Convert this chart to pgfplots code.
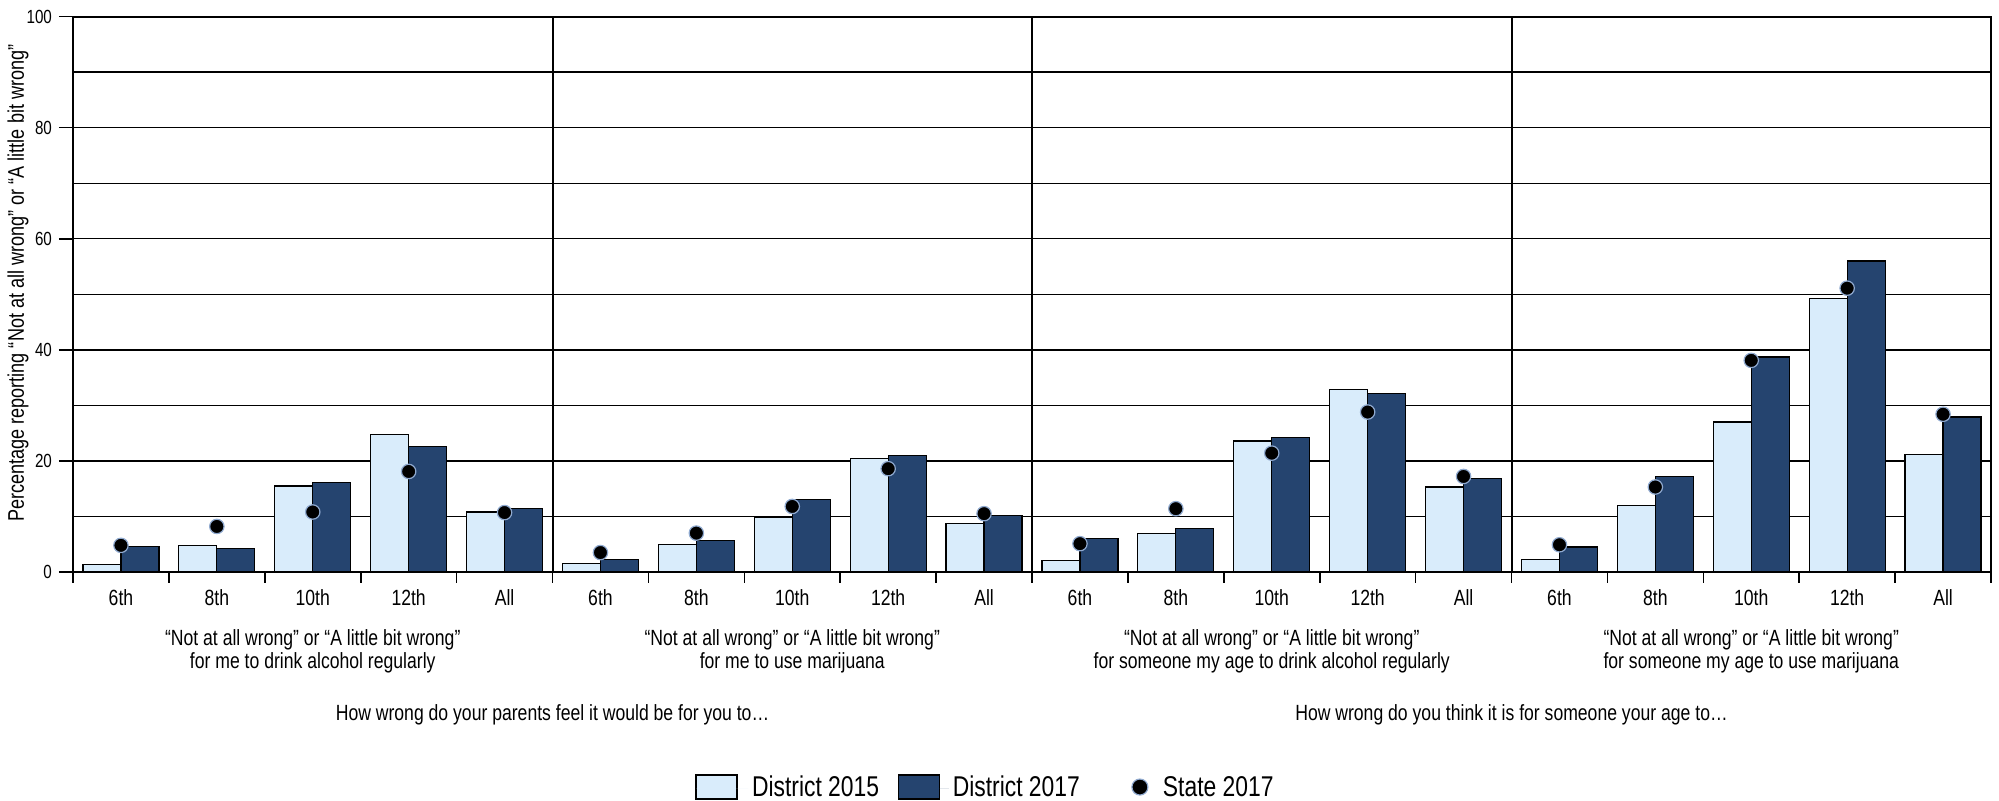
\documentclass[border=0pt]{standalone}
\usepackage{fontspec}
\setmainfont{Liberation Sans}[FakeStretch=0.8]
\usepackage{pgfplots}
\pgfplotsset{compat=1.18}
\definecolor{cA}{HTML}{D9ECFB}
\definecolor{cB}{HTML}{25446F}
\definecolor{dotedge}{HTML}{8FA9CF}
\begin{document}
\begin{tikzpicture}
\useasboundingbox (-36.5pt,-114.5pt) rectangle (963pt,286pt);
\begin{axis}[
  at={(0,0)}, anchor=south west,
  scale only axis, width=959pt, height=277.7pt,
  xmin=-0.5, xmax=19.5, ymin=0, ymax=100,
  clip=false,
  axis line style={line width=1pt},
  xtick={0,...,19},
  xticklabels={6th,8th,10th,12th,All,6th,8th,10th,12th,All,6th,8th,10th,12th,All,6th,8th,10th,12th,All},
  major x tick style={draw=none},
  minor xtick={-0.5,0.5,...,19.5},
  minor tick length=5.5pt,
  major tick length=7pt,
  tick align=outside,
  xtick pos=bottom, ytick pos=left,
  ytick={0,20,...,100},
  minor ytick={10,30,...,90},
  minor y tick style={draw=none},
  ymajorgrids, yminorgrids,
  major grid style={black, line width=0.7pt},
  minor grid style={black, line width=0.7pt},
  tick style={black, line width=0.8pt},
  /pgf/number format/assume math mode=true,
  xticklabel style={font=\fontsize{11}{13}\selectfont, anchor=center, yshift=-6pt},
  yticklabel style={font=\fontsize{9.5}{11}\selectfont},
  legend columns=3,
  legend style={at={(0.3243,-0.389)}, anchor=west, draw=none, inner sep=0pt,
    font=\fontsize{14.3}{16}\selectfont,
    /tikz/every even column/.append style={column sep=7.5pt}},
]
\addplot[ybar, bar width=19pt, bar shift=-9.5pt, fill=cA, draw=black, line width=0.6pt,
  legend image code/.code={\draw[fill=cA, draw=black, line width=0.6pt] (0pt,-5.5pt) rectangle (20.5pt,6.5pt); \path[draw=none] (0pt,0pt) -- (26pt,0pt);}]
  coordinates {(0,1.3) (1,4.7) (2,15.5) (3,24.8) (4,10.8) (5,1.6) (6,5.0) (7,9.9) (8,20.4) (9,8.7)
  (10,2.0) (11,7.0) (12,23.6) (13,32.8) (14,15.3) (15,2.3) (16,12.0) (17,27.0) (18,49.2) (19,21.1)};
\addlegendentry{District 2015}
\addplot[ybar, bar width=19pt, bar shift=9.5pt, fill=cB, draw=black, line width=0.6pt,
  legend image code/.code={\draw[fill=cB, draw=black, line width=0.6pt] (0pt,-5.5pt) rectangle (20.5pt,6.5pt); \path[draw=none] (0pt,0pt) -- (25pt,0pt);}]
  coordinates {(0,4.6) (1,4.3) (2,16.1) (3,22.6) (4,11.4) (5,2.2) (6,5.6) (7,13.0) (8,21.0) (9,10.2)
  (10,6.0) (11,7.8) (12,24.2) (13,32.2) (14,16.8) (15,4.5) (16,17.2) (17,38.7) (18,56.0) (19,27.9)};
\addlegendentry{District 2017}
\addplot[only marks, mark=*, mark size=3.6pt, mark options={fill=black, draw=dotedge, line width=0.6pt},
  legend image code/.code={\draw[fill=black, draw=dotedge, line width=0.6pt] (20.5pt,0.5pt) circle (4pt); \path[draw=none] (0pt,0pt) -- (30pt,0pt);}]
  coordinates {(0,4.8) (1,8.2) (2,10.8) (3,18.1) (4,10.7) (5,3.5) (6,7.0) (7,11.8) (8,18.6) (9,10.5)
  (10,5.1) (11,11.4) (12,21.4) (13,28.8) (14,17.2) (15,4.9) (16,15.3) (17,38.1) (18,51.1) (19,28.4)};
\addlegendentry{State 2017}
\draw[line width=1pt] (axis cs:4.5,0) -- (axis cs:4.5,100);
\draw[line width=1pt] (axis cs:9.5,0) -- (axis cs:9.5,100);
\draw[line width=1pt] (axis cs:14.5,0) -- (axis cs:14.5,100);
\node[align=center, font=\fontsize{11}{11.2}\selectfont] at (axis cs:2,-14.3) {“Not at all wrong” or “A little bit wrong”\\for me to drink alcohol regularly};
\node[align=center, font=\fontsize{11}{11.2}\selectfont] at (axis cs:7,-14.3) {“Not at all wrong” or “A little bit wrong”\\for me to use marijuana};
\node[align=center, font=\fontsize{11}{11.2}\selectfont] at (axis cs:12,-14.3) {“Not at all wrong” or “A little bit wrong”\\for someone my age to drink alcohol regularly};
\node[align=center, font=\fontsize{11}{11.2}\selectfont] at (axis cs:17,-14.3) {“Not at all wrong” or “A little bit wrong”\\for someone my age to use marijuana};
\node[font=\fontsize{11}{12.5}\selectfont] at (axis cs:4.5,-25.8) {How wrong do your parents feel it would be for you to…};
\node[font=\fontsize{11}{12.5}\selectfont] at (axis cs:14.5,-25.8) {How wrong do you think it is for someone your age to…};
\node[rotate=90, font=\fontsize{11.3}{12.5}\selectfont] at (rel axis cs:-0.0287,0.52) {Percentage reporting “Not at all wrong” or “A little bit wrong”};
\end{axis}
\end{tikzpicture}
\end{document}
